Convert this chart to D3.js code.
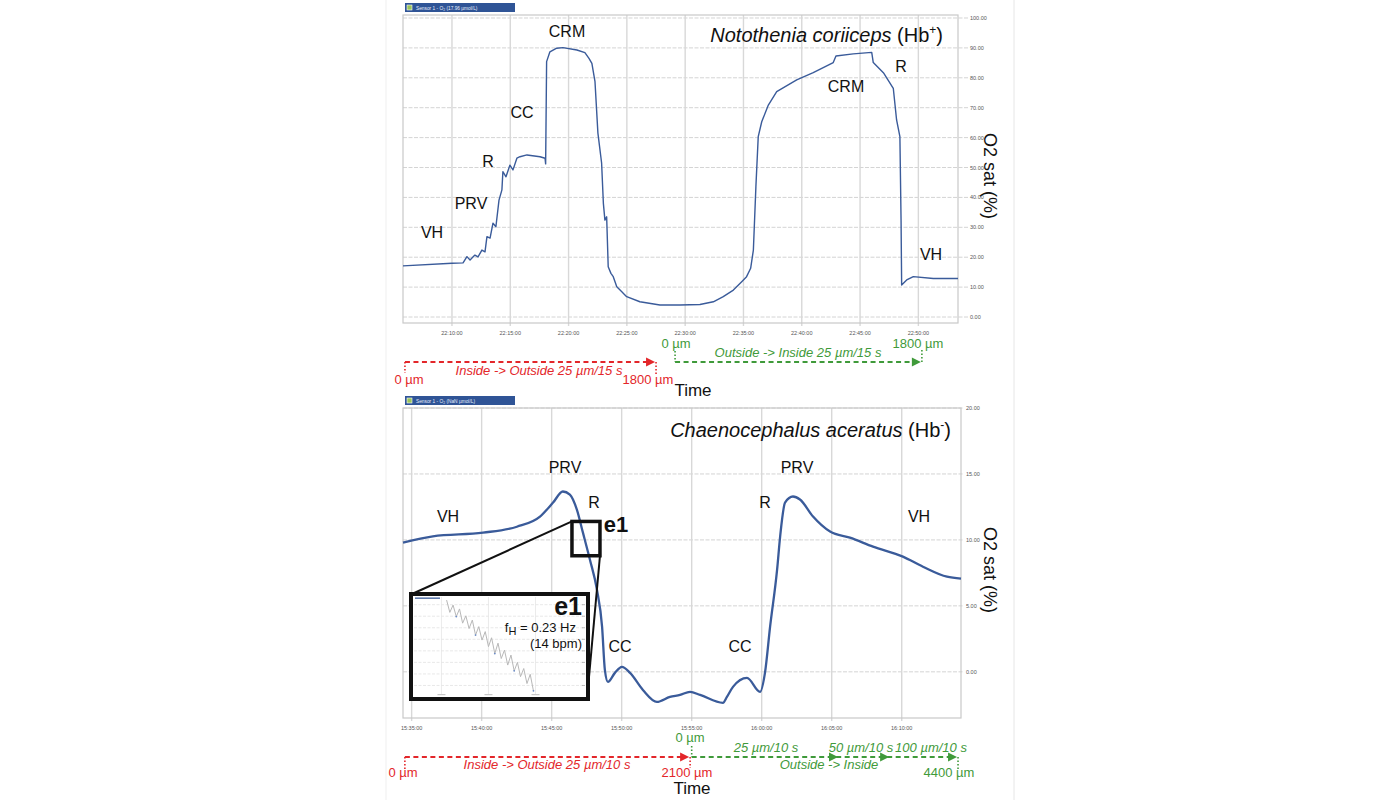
<!DOCTYPE html>
<html><head><meta charset="utf-8">
<script src="https://cdn.jsdelivr.net/npm/d3@7"></script>
<style>body{margin:0;background:#fff;} svg{display:block;font-family:"Liberation Sans",Arial,sans-serif;}</style>
</head><body><svg id="c" width="1400" height="800"></svg>
<script>
// ---------- DATA ----------
// Panel A: Notothenia coriiceps (Hb+)
const topTimes = ["22:05:48","22:10:00","22:10:57","22:11:17","22:11:33","22:11:58","22:12:14","22:12:34","22:12:50","22:13:00","22:13:16","22:13:31","22:13:46","22:14:02","22:14:17","22:14:22","22:14:38","22:14:58","22:15:14","22:15:34","22:15:50","22:16:26","22:17:33","22:17:59","22:18:02","22:18:07","22:18:24","22:18:59","22:19:31","22:20:43","22:21:24","22:21:45","22:22:00","22:22:16","22:22:31","22:22:50","22:22:59","22:23:07","22:23:16","22:23:24","22:23:38","22:23:50","22:24:08","22:24:25","22:24:59","22:26:07","22:27:50","22:29:33","22:31:16","22:32:25","22:33:16","22:34:08","22:34:51","22:35:16","22:35:37","22:35:51","22:36:04","22:36:16","22:36:34","22:37:08","22:37:51","22:39:34","22:40:59","22:42:42","22:42:56","22:44:25","22:46:00","22:46:08","22:47:00","22:47:51","22:48:08","22:48:25","22:48:31","22:48:34","22:49:00","22:49:34","22:51:17","22:53:24"];
const topValues = [17.1,18.0,18.1,20.2,19.1,20.7,20.1,22.4,21.8,26.9,26.4,31.4,30.2,39.1,42.5,48.6,46.9,50.8,49.2,53.1,53.6,54.2,53.6,53.1,51.2,85.4,88.7,89.9,90.1,89.3,88.4,86.5,84.8,78.7,61.5,51.5,38.1,32.4,33.5,16.8,14.6,13.5,10.1,9.0,6.8,5.1,4.0,4.0,4.2,5.1,6.8,9.0,11.8,13.5,16.3,22.4,43.6,60.3,65.3,70.9,75.4,79.3,81.7,85.1,87.3,88.0,88.5,85.1,81.7,76.5,65.9,60.3,32.4,10.7,12.4,13.5,12.9,12.9];
const topXDomain = ["22:05:48","22:53:24"];
const topXTicks = ["22:10:00","22:15:00","22:20:00","22:25:00","22:30:00","22:35:00","22:40:00","22:45:00","22:50:00"];
const topYTicks = [0,10,20,30,40,50,60,70,80,90,100];
const topLabels = ["CRM","CC","R","PRV","VH","CRM","R","VH"];

// Panel B: Chaenocephalus aceratus (Hb-)
const botTimes = ["15:34:23","15:36:31","15:40:06","15:42:31","15:44:10","15:45:06","15:45:48","15:46:18","15:46:48","15:47:14","15:47:44","15:48:14","15:48:36","15:48:48","15:49:01","15:49:31","15:50:01","15:50:36","15:51:31","15:52:31","15:53:27","15:54:10","15:54:53","15:55:36","15:57:14","15:57:31","15:57:57","15:58:57","15:59:53","16:00:14","16:00:36","16:01:06","16:01:19","16:01:40","16:02:14","16:02:44","16:03:40","16:04:53","16:06:18","16:07:57","16:10:05","16:11:31","16:13:14","16:14:14"];
const botValues = [9.8,10.27,10.55,11.0,11.77,12.83,13.67,13.44,12.3,10.55,8.5,6.23,3.42,0.15,-0.76,-0.08,0.38,-0.08,-1.37,-2.28,-1.9,-1.75,-1.52,-1.75,-2.35,-1.9,-1.14,-0.46,-1.52,-0.08,3.42,7.74,10.25,12.83,13.29,13.06,11.77,10.63,10.17,9.49,8.73,7.97,7.21,7.06];
const botXDomain = ["15:34:23","16:14:14"];
const botXTicks = ["15:35:00","15:40:00","15:45:00","15:50:00","15:55:00","16:00:00","16:05:00","16:10:00"];
const botYTicks = [0,5,10,15,20];
const botYDomain = [-3.5,20];

// e1 zoom window (time range, O2 range) and inset trace (seconds, O2 sat)
const e1Times = ["15:46:27","15:48:27"];
const e1Values = [8.8,11.4];
const insetLeadT = [0,17];
const insetLeadV = [11.57,11.57];
const insetT = [21.5,23.7,25.9,28.1,30.3,32.4,34.6,36.8,39.0,41.2,43.4,45.6,47.8,50.0,52.1,54.3,56.5,58.7,60.9,63.1,65.3,67.5,69.7,71.8,74.0,76.2,78.4,80.6];
const insetV = [11.52,11.20,11.39,11.09,11.29,10.92,11.11,10.78,11.00,10.61,10.83,10.48,10.70,10.31,10.54,10.13,10.40,10.00,10.22,9.83,10.09,9.68,9.90,9.53,9.74,9.35,9.59,9.16];
const insetXTicks = [18,50,82];
const insetYTicks = [9.3,9.6,9.9,10.2,10.5,10.8,11.1,11.4];

// Annotation ranges (times along x axes)
const topRed = ["22:05:58","22:27:25"];
const topGreen = ["22:29:08","22:50:13"];
const botRed = ["15:34:31","15:54:49"];
const botGreen = ["15:55:00","16:05:27","16:09:06","16:13:57"];

// ---------- DRAW ----------
const parse = d3.timeParse("%H:%M:%S");
const fmtT = d3.timeFormat("%H:%M:%S");
const fmtY = d3.format(".2f");
const svg = d3.select("#c");
const LINE = "#3a5b9a", RED = "#e3262a", GREEN = "#3f9a3a";

// faint figure edges
svg.append("line").attr("x1",386).attr("x2",386).attr("y1",0).attr("y2",800).attr("stroke","#efefef");
svg.append("line").attr("x1",1014).attr("x2",1014).attr("y1",0).attr("y2",800).attr("stroke","#e6e6e6");

function panel(o){
  const g = svg.append("g");
  const x = d3.scaleTime().domain(o.xDomain.map(parse)).range([o.left,o.right]);
  const y = d3.scaleLinear().domain(o.yDomain).range([o.bottom,o.top]);
  // header bar
  g.append("rect").attr("x",o.left+2).attr("y",o.top-12).attr("width",110).attr("height",9).attr("fill","#2f5496");
  g.append("rect").attr("x",o.left+4).attr("y",o.top-10).attr("width",5).attr("height",5).attr("fill","#9cc55a").attr("stroke","#fff").attr("stroke-width",0.6);
  g.append("text").attr("x",o.left+13).attr("y",o.top-5.5).attr("font-size",4.8).attr("fill","#e8eefc").text(o.header);
  // horizontal grid
  const yg = g.append("g");
  o.yTicks.forEach(v=>{
    yg.append("line").attr("x1",o.left).attr("x2",o.right+o.tickLen).attr("y1",y(v)).attr("y2",y(v))
      .attr("stroke","#d4d4d4").attr("stroke-width",1).attr("stroke-dasharray","4,1.5");
    yg.append("text").attr("x",o.right+o.tickLen+2).attr("y",y(v)+2).attr("font-size",5.5).attr("fill","#555").text(fmtY(v));
  });
  // vertical grid
  o.xTicks.forEach(t=>{
    const xx = x(parse(t));
    g.append("line").attr("x1",xx).attr("x2",xx).attr("y1",o.top).attr("y2",o.bottom+3).attr("stroke","#d8d8d8").attr("stroke-width",1.4);
    g.append("text").attr("x",xx).attr("y",o.bottom+12).attr("text-anchor","middle").attr("font-size",5.5).attr("fill","#555").text(fmtT(parse(t)));
  });
  // frame
  g.append("rect").attr("x",o.left).attr("y",o.top).attr("width",o.right-o.left).attr("height",o.bottom-o.top)
    .attr("fill","none").attr("stroke","#c9c9c9").attr("stroke-width",1.2);
  // data line
  const pts = o.times.map((t,i)=>[parse(t),o.values[i]]);
  g.append("path").datum(pts).attr("fill","none").attr("stroke",LINE).attr("stroke-width",o.lw).attr("stroke-linejoin","round")
    .attr("d",d3.line().x(d=>x(d[0])).y(d=>y(d[1])).curve(o.curve));
  // y title
  g.append("text").attr("transform",`translate(${984},${o.yTitleY}) rotate(90)`).attr("text-anchor","middle")
    .attr("font-size",18).attr("fill","#111").text("O2 sat (%)");
  return {g,x,y};
}

const A = panel({xDomain:topXDomain,yDomain:[-2.0,101],left:403,right:958,top:15,bottom:323,
  xTicks:topXTicks,yTicks:topYTicks,times:topTimes,values:topValues,lw:1.4,curve:d3.curveLinear,
  header:"Sensor 1 - O\u2082 (17.96 \u00b5mol/L)",tickLen:10,yTitleY:176});
const B = panel({xDomain:botXDomain,yDomain:botYDomain,left:403,right:961,top:408,bottom:718,
  xTicks:botXTicks,yTicks:botYTicks,times:botTimes,values:botValues,lw:2.3,curve:d3.curveMonotoneX,
  header:"Sensor 1 - O\u2082 (NaN \u00b5mol/L)",tickLen:3,yTitleY:570});

// titles
function title(x,y,italic,sup){
  const t = svg.append("text").attr("x",x).attr("y",y).attr("text-anchor","end").attr("font-size",20).attr("fill","#111");
  t.append("tspan").attr("font-style","italic").text(italic);
  t.append("tspan").text(" (Hb");
  t.append("tspan").attr("font-size",12).attr("dy",-8).text(sup);
  t.append("tspan").attr("dy",8).text(")");
}
title(943,42,"Notothenia coriiceps","+");
title(951,437,"Chaenocephalus aceratus","-");

// phase labels
const lab = (x,y,s,size,w)=>svg.append("text").attr("x",x).attr("y",y).attr("text-anchor","middle")
  .attr("font-size",size||16).attr("font-weight",w||"normal").attr("fill","#111").text(s);
const topLabPos = [[567,37],[522,118],[488,167],[471,209],[432,238],[846,92],[901,72],[931,260]];
topLabels.forEach((s,i)=>lab(topLabPos[i][0],topLabPos[i][1],s));
lab(565,473,"PRV"); lab(594,508,"R"); lab(448,522,"VH"); lab(620,652,"CC");
lab(797,473,"PRV"); lab(765,508,"R"); lab(919,522,"VH"); lab(740,652,"CC");
lab(616,532,"e1",22,"bold");

// e1 box and connector lines
const bx0 = B.x(parse(e1Times[0])), bx1 = B.x(parse(e1Times[1]));
const by0 = B.y(e1Values[1]), by1 = B.y(e1Values[0]);
const inset = {x:411,y:594,w:177,h:105};
svg.append("line").attr("x1",bx0).attr("y1",by0).attr("x2",inset.x+1).attr("y2",inset.y).attr("stroke","#111").attr("stroke-width",2);
svg.append("line").attr("x1",bx1).attr("y1",by1).attr("x2",inset.x+inset.w-1).attr("y2",inset.y+inset.h).attr("stroke","#111").attr("stroke-width",2);
svg.append("rect").attr("x",bx0).attr("y",by0).attr("width",bx1-bx0).attr("height",by1-by0).attr("fill","none").attr("stroke","#111").attr("stroke-width",3.5);

// inset
const ig = svg.append("g");
ig.append("rect").attr("x",inset.x).attr("y",inset.y).attr("width",inset.w).attr("height",inset.h).attr("fill","#fff");
const ix = d3.scaleLinear().domain([0,115]).range([inset.x+4,inset.x+inset.w-4]);
const iy = d3.scaleLinear().domain([9.0,11.6]).range([inset.y+inset.h-2,inset.y+3]);
insetYTicks.forEach(v=>ig.append("line").attr("x1",inset.x+3).attr("x2",inset.x+inset.w-5).attr("y1",iy(v)).attr("y2",iy(v))
  .attr("stroke","#e2e2e2").attr("stroke-width",0.8).attr("stroke-dasharray","3,1.5"));
insetXTicks.forEach(v=>{
  ig.append("line").attr("x1",ix(v)).attr("x2",ix(v)).attr("y1",inset.y+3).attr("y2",inset.y+inset.h-4).attr("stroke","#e6e6e6").attr("stroke-width",0.8);
  ig.append("rect").attr("x",ix(v)-4).attr("y",inset.y+inset.h-5).attr("width",8).attr("height",1.2).attr("fill","#c8c8c8");
});
insetYTicks.forEach(v=>ig.append("line").attr("x1",inset.x+inset.w-6).attr("x2",inset.x+inset.w-3).attr("y1",iy(v)).attr("y2",iy(v)).attr("stroke","#aaa").attr("stroke-width",0.8));
const il = d3.line().x(d=>ix(d[0])).y(d=>iy(d[1]));
ig.append("path").datum(insetT.map((t,i)=>[t,insetV[i]])).attr("fill","none").attr("stroke","#b8b8b8").attr("stroke-width",1).attr("d",il);
ig.append("path").datum(insetLeadT.map((t,i)=>[t,insetLeadV[i]])).attr("fill","none").attr("stroke",LINE).attr("stroke-width",1.3).attr("d",il);
ig.selectAll("circle.tr").data(insetT.map((t,i)=>[t,insetV[i]]).filter((d,i)=>i%2===1 && i%3===0)).join("circle")
  .attr("cx",d=>ix(d[0])).attr("cy",d=>iy(d[1])).attr("r",0.9).attr("fill","#6b8cc7");
ig.append("rect").attr("x",inset.x).attr("y",inset.y).attr("width",inset.w).attr("height",inset.h).attr("fill","none").attr("stroke","#111").attr("stroke-width",4);
ig.append("text").attr("x",582).attr("y",615).attr("text-anchor","end").attr("font-size",25).attr("font-weight","bold").attr("fill","#111").text("e1");
const fh = ig.append("text").attr("x",576).attr("y",632).attr("text-anchor","end").attr("font-size",13).attr("fill","#111");
fh.append("tspan").text("f");
fh.append("tspan").attr("dy",3).attr("font-size",11).text("H");
fh.append("tspan").attr("dy",-3).text(" = 0.23 Hz");
ig.append("text").attr("x",582).attr("y",648).attr("text-anchor","end").attr("font-size",13).attr("fill","#111").text("(14 bpm)");

// ---------- annotations ----------
function dashed(x1,x2,y,color){
  svg.append("line").attr("x1",x1).attr("x2",x2-5).attr("y1",y).attr("y2",y).attr("stroke",color).attr("stroke-width",1.8).attr("stroke-dasharray","5,3.5");
}
function head(x,y,color){
  svg.append("path").attr("d",`M${x},${y} L${x-9},${y-4.5} L${x-9},${y+4.5} Z`).attr("fill",color);
}
function dots(x,y1,y2,color){
  svg.append("line").attr("x1",x).attr("x2",x).attr("y1",y1).attr("y2",y2).attr("stroke",color).attr("stroke-width",1.6).attr("stroke-dasharray","1.5,2");
}
function txt(x,y,s,color,italic,size){
  svg.append("text").attr("x",x).attr("y",y).attr("text-anchor","middle").attr("font-size",size||13)
    .attr("font-style",italic?"italic":"normal").attr("fill",color).text(s);
}
// top panel annotations
{
  const ry=362, r0=A.x(parse(topRed[0])), r1=A.x(parse(topRed[1]));
  dashed(r0,r1,ry,RED); head(r1,ry,RED); dots(r0,ry,373,RED); dots(r1+1,ry,376,RED);
  const g0=A.x(parse(topGreen[0])), g1=A.x(parse(topGreen[1]));
  dashed(g0,g1,ry,GREEN); head(g1,ry,GREEN); dots(g0,351,ry,GREEN); dots(g1+1,350,ry,GREEN);
  txt(409,384,"0 \u00b5m",RED); txt(539,375,"Inside -> Outside 25 \u00b5m/15 s",RED,true); txt(648,384,"1800 \u00b5m",RED);
  txt(676,348,"0 \u00b5m",GREEN); txt(798,357,"Outside -> Inside 25 \u00b5m/15 s",GREEN,true); txt(918,348,"1800 \u00b5m",GREEN);
  txt(693,396,"Time","#111",false,17);
}
// bottom panel annotations
{
  const ry=757, r0=B.x(parse(botRed[0])), r1=B.x(parse(botRed[1]));
  dashed(r0,r1,ry,RED); head(r1,ry,RED); dots(r0,ry,769,RED);
  const gx = botGreen.map(t=>B.x(parse(t)));
  dashed(gx[0],gx[3],ry,GREEN); head(gx[1],ry,GREEN); head(gx[2],ry,GREEN); head(gx[3],ry,GREEN);
  dots(gx[0],746,ry,GREEN); dots(r1+1,ry,768,RED); dots(gx[3]+1,ry,769,GREEN);
  txt(403,777,"0 \u00b5m",RED); txt(547,769,"Inside -> Outside 25 \u00b5m/10 s",RED,true); txt(687,777,"2100 \u00b5m",RED);
  txt(690,742,"0 \u00b5m",GREEN); txt(766,752,"25 \u00b5m/10 s",GREEN,true); txt(861,752,"50 \u00b5m/10 s",GREEN,true);
  txt(931,752,"100 \u00b5m/10 s",GREEN,true); txt(829,769,"Outside -> Inside",GREEN,true); txt(949,777,"4400 \u00b5m",GREEN);
  txt(692,794,"Time","#111",false,17);
}
</script></body></html>
